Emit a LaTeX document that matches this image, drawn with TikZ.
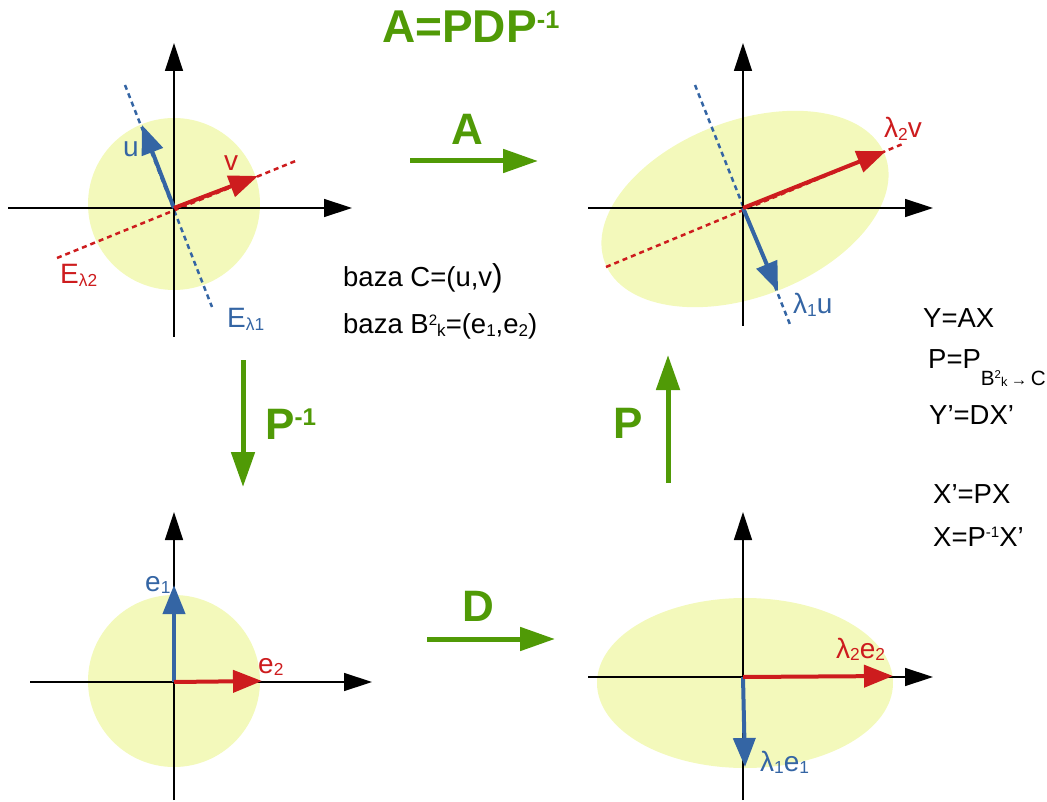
\documentclass[tikz,border=0pt]{standalone}
\usepackage{fontspec}
\setmainfont{Liberation Sans}
\usetikzlibrary{arrows.meta}
\definecolor{grn}{RGB}{80,154,6}
\definecolor{rd}{RGB}{205,28,30}
\definecolor{bl}{RGB}{52,101,164}
\definecolor{yl}{RGB}{243,249,187}
\newcommand\fs[1]{\fontsize{#1}{#1}\selectfont}
\newcommand\lo[1]{\raisebox{-0.08em}{\scalebox{0.62}{#1}}}
\newcommand\hi[1]{\raisebox{0.31em}{\scalebox{0.55}{#1}}}
\begin{document}
\begin{tikzpicture}[x=1pt,y=-1pt,
  axis/.style={line width=1.4pt,-{Triangle[length=28pt,width=18pt]}},
  vecb/.style={bl,line width=4pt,-{Triangle[length=29pt,width=22pt]}},
  vecr/.style={rd,line width=4pt,-{Triangle[length=29pt,width=22pt]}},
  dshb/.style={bl,line width=2.5pt,dash pattern=on 5pt off 4pt},
  dshr/.style={rd,line width=2.5pt,dash pattern=on 5pt off 4pt},
  garrow/.style={grn,line width=5pt,-{Triangle[length=35pt,width=23pt]}},
  lbl/.style={inner sep=0pt,anchor=base west},
  glbl/.style={inner sep=0pt,text=grn,font=\fs{44}\bfseries},
  vl/.style={lbl,font=\fs{28}},
  tx/.style={lbl,font=\fs{27.5}}]
\useasboundingbox (0,0) rectangle (1047,802);

% ---------- quadrant 1 (top left)
\fill[yl] (174,204) circle (86);
\coordinate (O1) at (174,208);
\coordinate (h1a) at (8,208);   \coordinate (h1b) at (352,208);
\coordinate (v1a) at (174,337); \coordinate (v1b) at (174,43);
\coordinate (db1a) at (125,85); \coordinate (db1b) at (212,307);
\coordinate (dr1a) at (57,258); \coordinate (dr1b) at (298,160);
\coordinate (u1) at (142,125);  \coordinate (v1) at (258,176);
\draw[dshb] (db1a) -- (db1b);
\draw[dshr] (dr1a) -- (dr1b);
\draw[axis] (h1a) -- (h1b);
\draw[axis] (v1a) -- (v1b);
\draw[vecb] (O1) -- (u1);
\draw[vecr] (O1) -- (v1);
\node[vl,text=bl] (lu) at (123,157) {u};
\node[vl,text=rd] (lv) at (224,171) {v};
\node[vl,text=rd] (le2) at (60,284) {E\lo{λ2}};
\node[vl,text=bl] (le1) at (227,328) {E\lo{λ1}};

% ---------- quadrant 2 (top right)
\fill[yl,rotate around={21:(745,209)}] (745,209) ellipse [x radius=150,y radius=88];
\coordinate (O2) at (743,208);
\coordinate (h2a) at (588,208);  \coordinate (h2b) at (933,208);
\coordinate (v2a) at (743,326);  \coordinate (v2b) at (743,43);
\coordinate (db2a) at (695,85);  \coordinate (db2b) at (791,327);
\coordinate (dr2a) at (606,267); \coordinate (dr2b) at (905,143);
\coordinate (u2) at (778,291);   \coordinate (v2) at (886,151);
\draw[dshb] (db2a) -- (db2b);
\draw[dshr] (dr2a) -- (dr2b);
\draw[axis] (h2a) -- (h2b);
\draw[axis] (v2a) -- (v2b);
\draw[vecb] (O2) -- (u2);
\draw[vecr] (O2) -- (v2);
\node[vl,text=rd] (l2v) at (884,138) {λ\lo{2}v};
\node[vl,text=bl] (l1u) at (793,314) {λ\lo{1}u};

% ---------- quadrant 3 (bottom left)
\fill[yl] (174,681) circle (86);
\coordinate (O3) at (174,682);
\coordinate (h3a) at (30,682);   \coordinate (h3b) at (372,682);
\coordinate (v3a) at (174,800);  \coordinate (v3b) at (174,512);
\coordinate (e1) at (174,585);   \coordinate (e2) at (262,681);
\draw[axis] (h3a) -- (h3b);
\draw[axis] (v3a) -- (v3b);
\draw[vecb] (O3) -- (e1);
\draw[vecr] (O3) -- (e2);
\node[vl,text=bl] (le1b) at (145,591) {e\lo{1}};
\node[vl,text=rd] (le2b) at (258,673) {e\lo{2}};

% ---------- quadrant 4 (bottom right)
\fill[yl] (745,683) ellipse [x radius=148,y radius=85];
\coordinate (O4) at (743,677);
\coordinate (h4a) at (588,677);  \coordinate (h4b) at (933,677);
\coordinate (v4a) at (743,800);  \coordinate (v4b) at (743,512);
\coordinate (f1) at (745,767);   \coordinate (f2) at (893,676);
\draw[axis] (h4a) -- (h4b);
\draw[axis] (v4a) -- (v4b);
\draw[vecb] (O4) -- (f1);
\draw[vecr] (O4) -- (f2);
\node[vl,text=rd] (l2e2) at (836,658) {λ\lo{2}e\lo{2}};
\node[vl,text=bl] (l1e1) at (760,771) {λ\lo{1}e\lo{1}};

% ---------- green maps
\coordinate (aA) at (410,161);  \coordinate (bA) at (538,161);
\coordinate (aD) at (427,639);  \coordinate (bD) at (555,639);
\coordinate (aPi) at (243,360); \coordinate (bPi) at (243,487);
\coordinate (aP) at (668,483);  \coordinate (bP) at (668,355);
\draw[garrow] (aA) -- (bA);
\draw[garrow] (aD) -- (bD);
\draw[garrow] (aPi) -- (bPi);
\draw[garrow] (aP) -- (bP);
\node[glbl] (tA) at (467,129) {A};
\node[glbl] (tD) at (478,606) {D};
\node[glbl] (tP) at (628,423) {P};
\node[glbl,anchor=base west] (tPi) at (265,439) {P\hi{-1}};
\node[glbl,anchor=base west,font=\fs{46}\bfseries] (title) at (382,43) {A=PDP\hi{-1}};

% ---------- texts
\node[tx] (bc) at (343,287) {baza C=(u,v\scalebox{1.15}{)}};
\node[tx] (bb) at (343,334) {baza B\hi{2}\lo{k}=(e\lo{1},e\lo{2})};
\node[tx] (r1) at (923,327) {Y=AX};
\node[tx] (r2) at (928,368) {P=P\raisebox{-0.62em}{\scalebox{0.75}{B\hi{2}\lo{k}\,\scalebox{0.8}{→}\,C}}};
\node[tx] (r3) at (929,424) {Y’=DX’};
\node[tx] (r4) at (933,503) {X’=PX};
\node[tx] (r5) at (933,546) {X=P\hi{-1}X’};
\end{tikzpicture}
\end{document}
